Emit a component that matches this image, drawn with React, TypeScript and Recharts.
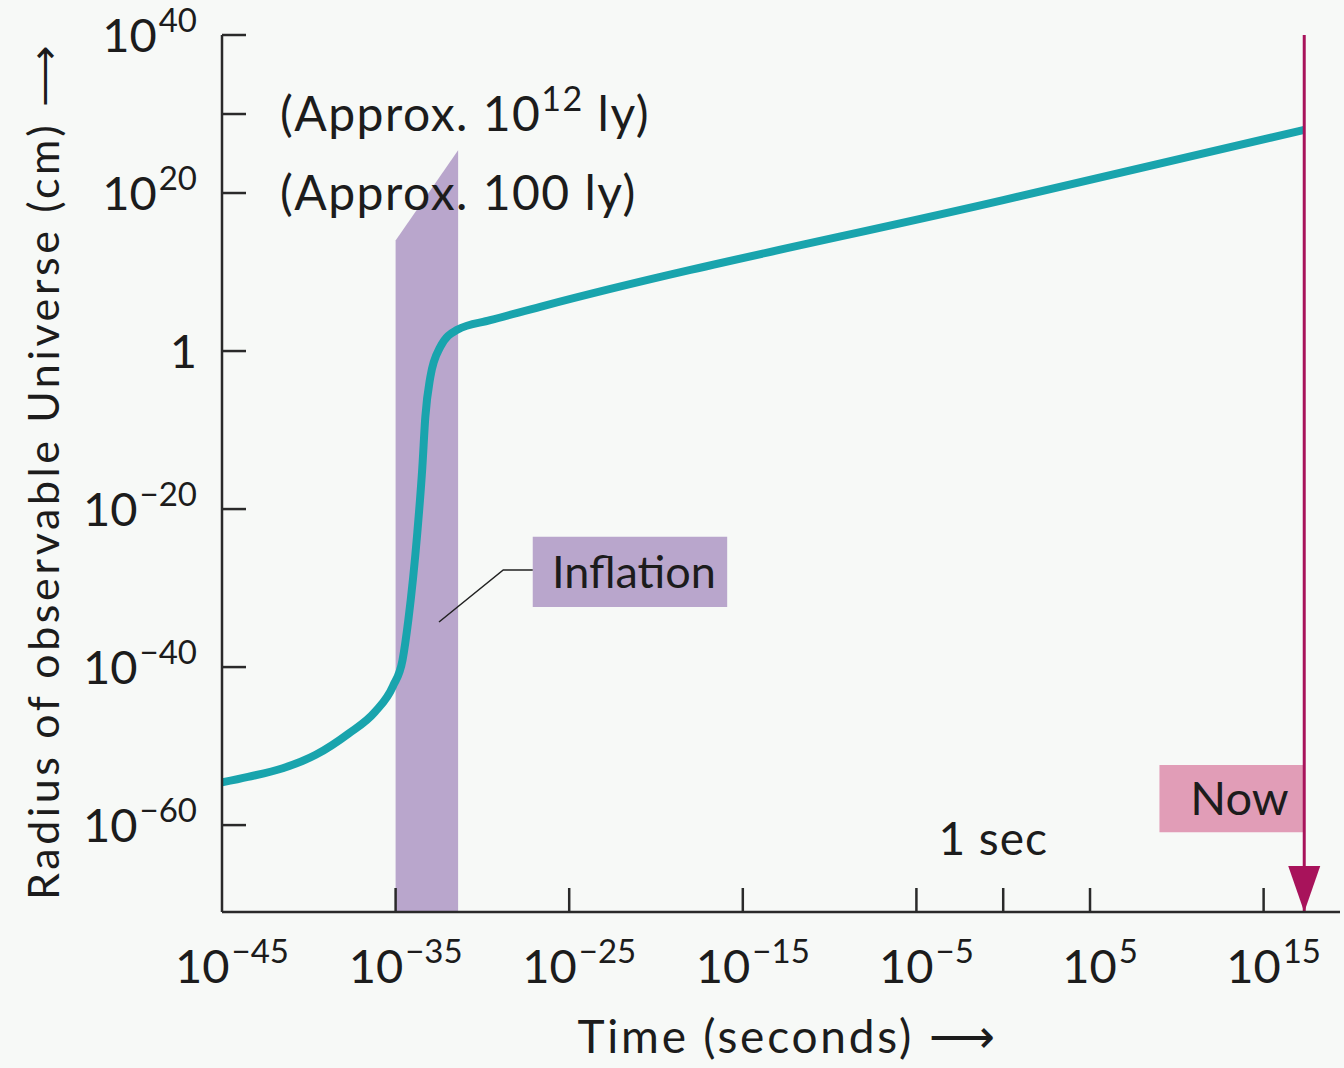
import {
  Area,
  ComposedChart,
  Label,
  Line,
  ReferenceArea,
  ReferenceLine,
  XAxis,
  YAxis,
} from 'recharts';

// everything is in powers of ten: x = log10(time in s), y = log10(radius in cm)
const timeExp = [-45, -43.5, -41.5, -39.6, -37.7, -36.2, -35.15, -34.6, -34.27, -33.75, -33.46, -33.29, -33.0, -32.43, -31.45, -29.55, -26.67, 0, 17.34];
const radiusExp = [-54.6, -53.9, -52.8, -51.1, -48.4, -45.7, -42.4, -39.1, -34.1, -23.0, -14.7, -8.4, -3.3, 0.5, 2.7, 3.9, 5.6, 19.1, 28.0];

// inflation epoch band (slanted top)
const bandExp = [-35, -31.4];
const bandTop = [14, 25.4];

// pointer from the "Inflation" box into the band
const leaderX = [-32.5, -28.8, -27.1];
const leaderY = [-34.3, -27.7, -27.7];

const inflationBoxX = [-27.1, -15.9];
const inflationBoxY = [-32.4, -23.5];
const nowBoxX = [9.0, 17.3];
const nowBoxY = [-60.9, -52.4];
const nowExp = 17.34;

const xDomain = [-45, 19.4];
const yDomain = [-71, 40];
const xTicks = [-45, -35, -25, -15, -5, 0, 5, 15];
const yTicks = [-60, -40, -20, 0, 20, 30, 40];
const yUnlabelled = [30];
const yNotes: Record<number, [string, string, string]> = {
  30: ['(Approx. 10', '12', ' ly)'],
  20: ['(Approx. 100 ly)', '', ''],
};

const curve = timeExp.map((x, i) => ({ x, y: radiusExp[i] }));
const band = bandExp.map((x, i) => ({ x, top: bandTop[i] }));
const leader = leaderX.map((x, i) => ({ x, y: leaderY[i] }));

const FONT = 'Lato, "Open Sans", sans-serif';
const INK = '#1c1c1c';
const AXIS = '#2a2a2a';

const sup = (v: number) => (v < 0 ? '\u2212' + Math.abs(v) : String(v));

const renderXTick = (props: any) => {
  const { x, y, payload } = props;
  const v = payload.value;
  return (
    <g>
      {v !== xDomain[0] && <line x1={x} x2={x} y1={y} y2={y - 24} stroke={AXIS} strokeWidth={2.5} />}
      {v === 0 ? (
        <text x={x - 10} y={y - 57} textAnchor="middle" fontSize={46} fontFamily={FONT} fill={INK} letterSpacing={1}>
          1 sec
        </text>
      ) : (
        <text x={x + 10} y={y + 71} textAnchor="middle" fontSize={47} fontFamily={FONT} fill={INK}>
          10
          <tspan dx={2} dy={-20} fontSize={33}>
            {sup(v)}
          </tspan>
        </text>
      )}
    </g>
  );
};

const renderYTick = (props: any) => {
  const { x, y, payload } = props;
  const v = payload.value;
  const note = yNotes[v];
  return (
    <g>
      <line x1={x} x2={x + 24} y1={y} y2={y} stroke={AXIS} strokeWidth={2.5} />
      {!yUnlabelled.includes(v) && (
        <text x={x - 25} y={y + 17} textAnchor="end" fontSize={47} fontFamily={FONT} fill={INK}>
          {v === 0 ? (
            '1'
          ) : (
            <>
              10
              <tspan dx={2} dy={-20} fontSize={33}>
                {sup(v)}
              </tspan>
            </>
          )}
        </text>
      )}
      {note && (
        <text x={x + 58} y={y + 17} fontSize={48} fontFamily={FONT} fill={INK} letterSpacing={1.5}>
          {note[0]}
          {note[1] && (
            <tspan dy={-20} fontSize={34}>
              {note[1]}
            </tspan>
          )}
          {note[2] && <tspan dy={20}>{note[2]}</tspan>}
        </text>
      )}
    </g>
  );
};

const boxText = (text: string, dx: number, size: number) => (p: any) => {
  const vb = p.viewBox;
  return (
    <text
      x={vb.x + vb.width / 2 + dx}
      y={vb.y + vb.height / 2 + 16}
      textAnchor="middle"
      fontSize={size}
      fontFamily={FONT}
      fill={INK}
    >
      {text}
    </text>
  );
};

const arrowHead = (p: any) => {
  const vb = p.viewBox;
  const tip = vb.y + vb.height;
  return <polygon points={`${vb.x - 16},${tip - 46} ${vb.x + 16},${tip - 46} ${vb.x},${tip}`} fill="#a8135b" />;
};

export default function App() {
  return (
    <div style={{ position: 'absolute', left: 0, top: 0, width: 1344, height: 1068, background: '#f7f9f7' }}>
      <ComposedChart width={1344} height={1068} margin={{ top: 35, right: 4, bottom: 0, left: 0 }}>
        <XAxis
          type="number"
          dataKey="x"
          domain={xDomain}
          ticks={xTicks}
          interval={0}
          allowDataOverflow
          height={156}
          tickSize={0}
          tickMargin={0}
          tickLine={false}
          tick={renderXTick}
          axisLine={{ stroke: AXIS, strokeWidth: 2.5 }}
        >
          <Label
            content={(p: any) => {
              const vb = p.viewBox;
              return (
                <text
                  x={vb.x + vb.width / 2 + 5}
                  y={vb.y + 141}
                  textAnchor="middle"
                  fontSize={46}
                  fontFamily={FONT}
                  fill={INK}
                  textLength={417}
                  lengthAdjust="spacing"
                >
                  Time (seconds) {'\u27F6'}
                </text>
              );
            }}
          />
        </XAxis>
        <YAxis
          type="number"
          domain={yDomain}
          ticks={yTicks}
          interval={0}
          allowDataOverflow
          width={222}
          tickSize={0}
          tickMargin={0}
          tickLine={false}
          tick={renderYTick}
          axisLine={{ stroke: AXIS, strokeWidth: 2.5 }}
        >
          <Label
            content={(p: any) => {
              const vb = p.viewBox;
              const cx = vb.x + 42;
              const cy = vb.y + vb.height / 2 - 1;
              return (
                <text
                  x={cx}
                  y={cy}
                  transform={`rotate(-90 ${cx} ${cy})`}
                  textAnchor="middle"
                  dominantBaseline="central"
                  fontSize={43}
                  fontFamily={FONT}
                  fill={INK}
                  textLength={855}
                  lengthAdjust="spacing"
                >
                  Radius of observable Universe (cm) {'\u27F6'}
                </text>
              );
            }}
          />
        </YAxis>

        <Area
          data={band}
          dataKey="top"
          type="linear"
          baseValue={yDomain[0]}
          stroke="none"
          fill="#b9a6cc"
          fillOpacity={1}
          dot={false}
          activeDot={false}
          isAnimationActive={false}
        />
        <Line
          data={curve}
          dataKey="y"
          type="monotone"
          stroke="#19a4ad"
          strokeWidth={8}
          dot={false}
          activeDot={false}
          isAnimationActive={false}
        />
        <Line
          data={leader}
          dataKey="y"
          type="linear"
          stroke="#222"
          strokeWidth={1.5}
          dot={false}
          activeDot={false}
          isAnimationActive={false}
        />
        <ReferenceArea
          x1={inflationBoxX[0]}
          x2={inflationBoxX[1]}
          y1={inflationBoxY[0]}
          y2={inflationBoxY[1]}
          fill="#b9a6cc"
          fillOpacity={1}
          stroke="none"
          label={boxText('Inflation', 4, 45)}
        />
        <ReferenceArea
          x1={nowBoxX[0]}
          x2={nowBoxX[1]}
          y1={nowBoxY[0]}
          y2={nowBoxY[1]}
          fill="#e19db7"
          fillOpacity={1}
          stroke="none"
          label={boxText('Now', 8, 47)}
        />
        <ReferenceLine x={nowExp} stroke="#a8135b" strokeWidth={3} label={arrowHead} />
      </ComposedChart>
    </div>
  );
}
